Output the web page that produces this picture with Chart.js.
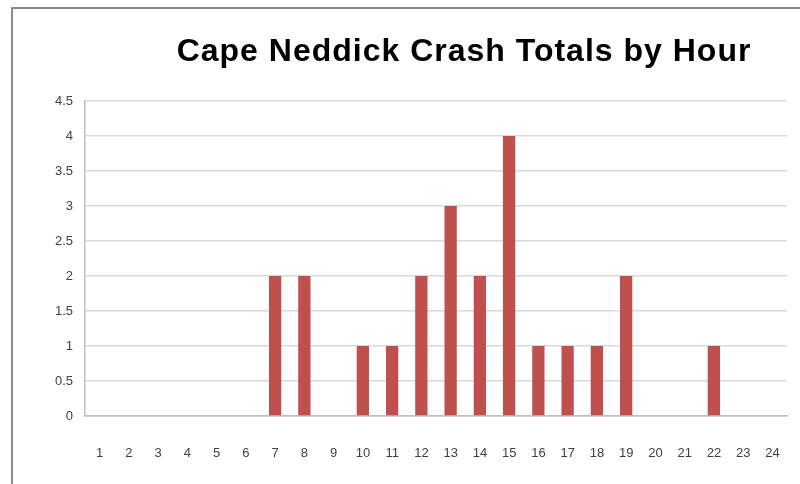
<!DOCTYPE html>
<html>
<head>
<meta charset="utf-8">
<script src="https://cdn.jsdelivr.net/npm/chart.js@4"></script>
<style>
  html, body { margin: 0; padding: 0; background: #fff; overflow: hidden; }
  #wrap { position: relative; width: 800px; height: 484px; }
  #frame { position: absolute; left: 11px; top: 7px; width: 900px; height: 600px; border: 2px solid #8c8c8c; box-sizing: border-box; }
  canvas { position: absolute; left: 0; top: 0; }
</style>
</head>
<body>
<div id="wrap">
  <div id="frame"></div>
  <canvas id="chart" width="800" height="484"></canvas>
</div>
<script>
const titleText = "Cape Neddick Crash Totals by Hour";
const hours = ["1","2","3","4","5","6","7","8","9","10","11","12","13","14","15","16","17","18","19","20","21","22","23","24"];
const crashes = [0,0,0,0,0,0,2,2,0,1,1,2,3,2,4,1,1,1,2,0,0,1,0,0];
const yMax = 4.5;
const yStep = 0.5;

// title sits off-centre in the original, so draw it by hand
const titlePlugin = {
	id: "fixedTitle",
	afterDraw(chart) {
		const ctx = chart.ctx;
		ctx.save();
		ctx.font = "bold 32px 'Liberation Sans', Arial, sans-serif";
		ctx.letterSpacing = "1px";
		ctx.fillStyle = "#000";
		ctx.textAlign = "center";
		ctx.textBaseline = "middle";
		ctx.fillText(titleText, 464, 52);
		ctx.restore();
	}
};

const ctx = document.getElementById("chart").getContext("2d");
new Chart(ctx, {
	type: "bar",
	data: {
		labels: hours,
		datasets: [{
			data: crashes,
			backgroundColor: "#c0504d",
			borderWidth: 0,
			categoryPercentage: 1,
			barPercentage: 0.42,
		}],
	},
	options: {
		responsive: false,
		animation: false,
		layout: { padding: { top: 101, right: 13, left: 0, bottom: 0 } },
		plugins: { legend: { display: false }, tooltip: { enabled: false } },
		scales: {
			x: {
				// invisible tick marks push the labels down without widening the axis
				grid: { drawOnChartArea: false, drawTicks: true, tickLength: 26, tickColor: "rgba(0,0,0,0)" },
				border: { color: "#bfbfbf", width: 1.5 },
				ticks: { color: "#404040", font: { family: "'Liberation Sans', Arial, sans-serif", size: 13 }, padding: 4, maxRotation: 0, autoSkip: false },
				afterFit(scale) { scale.height = 68; },
			},
			y: {
				min: 0,
				max: yMax,
				ticks: {
					stepSize: yStep,
					color: "#404040",
					font: { family: "'Liberation Sans', Arial, sans-serif", size: 13 },
					padding: 12,
					callback: (v) => String(v),
				},
				grid: { color: "#d9d9d9", lineWidth: 1.5, drawTicks: false },
				border: { color: "#bfbfbf", width: 1.5 },
				afterFit(scale) { scale.width = 85; },
			},
		},
	},
	plugins: [titlePlugin],
});
</script>
</body>
</html>
